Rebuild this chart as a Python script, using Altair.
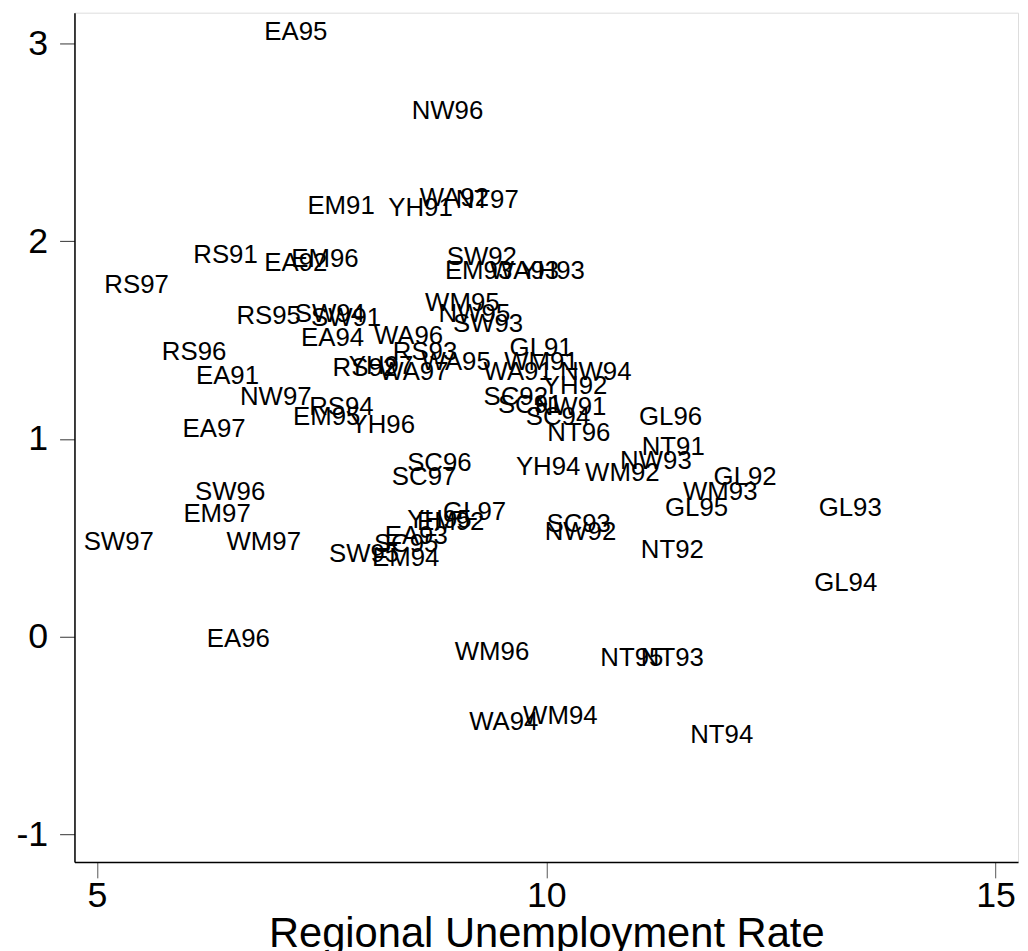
import altair as alt
import pandas as pd

labels = ["EA95", "NW96", "EM91", "YH91", "WA92", "NT97", "RS91", "EA92", "EM96", "SW92",
          "EM93", "WA93", "YH93", "RS97", "WM95", "RS95", "SW94", "SW91", "NW95", "SW93",
          "EA94", "WA96", "RS93", "GL91", "RS96", "RS92", "YH97", "WA97", "WA95", "WA91",
          "WM91", "NW94", "YH92", "EA91", "SC92", "SC91", "NW91", "SC94", "NW97", "RS94",
          "EM95", "YH96", "NT96", "GL96", "EA97", "NT91", "SC96", "NW93", "YH94", "WM92",
          "SC97", "GL92", "WM93", "GL93", "SW96", "GL95", "EM97", "GL97", "YH95", "EM92",
          "SC93", "SW97", "WM97", "EA93", "NW92", "SC95", "SW95", "EM94", "NT92", "GL94",
          "EA96", "WM96", "NT95", "NT93", "WA94", "WM94", "NT94"]

unemployment = [6.84, 8.48, 7.32, 8.22, 8.57, 8.97, 6.05, 6.84, 7.14, 8.87,
                8.85, 9.35, 9.69, 5.06, 8.63, 6.53, 7.18, 7.36, 8.78, 8.94,
                7.25, 8.06, 8.27, 9.57, 5.70, 7.60, 7.78, 8.12, 8.59, 9.28,
                9.51, 10.13, 9.94, 6.08, 9.28, 9.44, 9.85, 9.75, 6.57, 7.34,
                7.16, 7.80, 9.99, 11.01, 5.93, 11.04, 8.43, 10.80, 9.64, 10.41,
                8.26, 11.84, 11.50, 13.01, 6.07, 11.30, 5.94, 8.83, 8.43, 8.54,
                9.98, 4.83, 6.42, 8.18, 9.96, 8.06, 7.56, 8.04, 11.03, 12.96,
                6.20, 8.96, 10.58, 11.03, 9.12, 9.72, 11.58]

yvalue = [3.06, 2.66, 2.18, 2.17, 2.22, 2.21, 1.93, 1.89, 1.91, 1.92,
          1.85, 1.85, 1.85, 1.78, 1.69, 1.62, 1.63, 1.61, 1.63, 1.58,
          1.51, 1.52, 1.44, 1.46, 1.44, 1.36, 1.37, 1.34, 1.39, 1.34,
          1.39, 1.34, 1.27, 1.32, 1.21, 1.17, 1.16, 1.11, 1.21, 1.16,
          1.11, 1.07, 1.03, 1.11, 1.05, 0.96, 0.88, 0.89, 0.86, 0.83,
          0.81, 0.81, 0.73, 0.65, 0.73, 0.65, 0.62, 0.63, 0.59, 0.58,
          0.57, 0.48, 0.48, 0.51, 0.53, 0.47, 0.42, 0.40, 0.44, 0.27,
          -0.01, -0.08, -0.11, -0.11, -0.43, -0.40, -0.50]

x_ticks = [5, 10, 15]
y_ticks = [-1, 0, 1, 2, 3]

df = pd.DataFrame({"label": labels, "unemp": unemployment, "y": yvalue})

FONT = "Liberation Sans"

chart = alt.Chart(df).mark_text(
    align="left", baseline="middle", font=FONT, fontSize=26, color="black", dx=2, dy=0
).encode(
    x=alt.X("unemp:Q", scale=alt.Scale(domain=[4.75, 15.25], nice=False, zero=False),
            axis=alt.Axis(values=x_ticks, title="Regional Unemployment Rate", grid=False,
                          tickSize=16, tickColor="#555555", domainColor="black", domainWidth=1.5,
                          labelFontSize=36, labelFont=FONT, labelColor="black", labelPadding=1,
                          labelExpr="'' + datum.value",
                          titleFontSize=42, titleFont=FONT, titleFontWeight="normal",
                          titleColor="black", titlePadding=0)),
    y=alt.Y("y:Q", scale=alt.Scale(domain=[-1.14, 3.157], nice=False, zero=False),
            axis=alt.Axis(values=y_ticks, title=None, grid=False,
                          tickSize=15, tickColor="#333333", domainColor="black", domainWidth=1.5,
                          labelFontSize=36, labelFont=FONT, labelColor="black", labelPadding=12,
                          labelExpr="'' + datum.value")),
    text="label:N",
).properties(
    width=951, height=856,
    autosize=alt.AutoSizeParams(type="none"),
    padding={"left": 67, "top": 1, "right": 2, "bottom": 86},
).configure_view(stroke=None).configure(background="white")

chart.save("out.html", embed_options={"renderer": "svg", "actions": False})
